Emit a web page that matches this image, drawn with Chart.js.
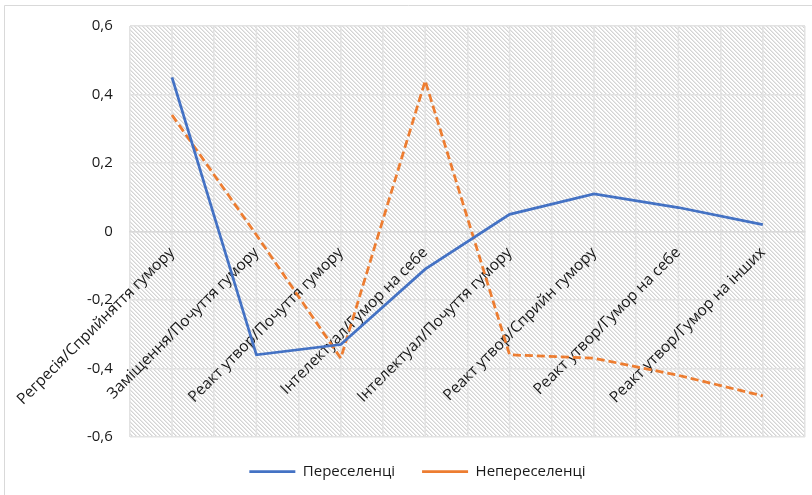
<!DOCTYPE html>
<html>
<head>
<meta charset="utf-8">
<script src="https://cdn.jsdelivr.net/npm/chart.js@4.4.1/dist/chart.umd.min.js"></script>
<style>
  html, body { margin: 0; padding: 0; background: #fff; }
  #wrap { width: 812px; height: 495px; }
</style>
</head>
<body>
<div id="wrap"><canvas id="c" width="812" height="495"></canvas></div>
<script>
const categories = [
  'Регресія/Сприйняття гумору',
  'Заміщення/Почуття гумору',
  'Реакт утвор/Почуття гумору',
  'Інтелектуал/Гумор на себе',
  'Інтелектуал/Почуття гумору',
  'Реакт утвор/Сприйн гумору',
  'Реакт утвор/Гумор на себе',
  'Реакт утвор/Гумор на інших'
];
const seriesNames = ['Переселенці', 'Непереселенці'];
const pereselentsi = [0.45, -0.36, -0.33, -0.11, 0.05, 0.11, 0.07, 0.02];
const nepereselentsi = [0.34, -0.01, -0.37, 0.44, -0.36, -0.37, -0.42, -0.48];
const yMin = -0.6, yMax = 0.6, yStep = 0.2;

// hatch pattern
const pc = document.createElement('canvas');
pc.width = 4; pc.height = 4;
const pctx = pc.getContext('2d');
const img = pctx.createImageData(4, 4);
for (let y = 0; y < 4; y++) for (let x = 0; x < 4; x++) {
  const m = ((x - y) % 4 + 4) % 4;
  const v = m === 0 ? 212 : (m === 1 ? 232 : 255);
  const i = (y * 4 + x) * 4;
  img.data[i] = v; img.data[i+1] = v; img.data[i+2] = v; img.data[i+3] = 255;
}
pctx.putImageData(img, 0, 0);

const bgPlugin = {
  id: 'bg',
  beforeDraw(chart) {
    const { ctx, chartArea: a } = chart;
    ctx.save();
    ctx.fillStyle = '#fff';
    ctx.fillRect(0, 0, chart.width, chart.height);
    ctx.strokeStyle = '#d9d9d9';
    ctx.lineWidth = 1;
    ctx.beginPath();
    ctx.moveTo(4.5, chart.height);
    ctx.lineTo(4.5, 5.5);
    ctx.lineTo(chart.width, 5.5);
    ctx.stroke();
    ctx.fillStyle = ctx.createPattern(pc, 'repeat');
    ctx.fillRect(a.left, a.top, a.right - a.left, a.bottom - a.top);
    const xs = chart.scales.x;
    ctx.strokeStyle = '#e2e2e2';
    ctx.lineWidth = 1.5;
    for (let i = 0; i < categories.length; i++) {
      const px = xs.getPixelForValue(i);
      ctx.beginPath();
      ctx.moveTo(px, a.top);
      ctx.lineTo(px, a.bottom);
      ctx.stroke();
    }
    ctx.restore();
  }
};

const fontFam = '"Open Sans", "Noto Sans", sans-serif';
const textColor = '#1a1a1a';

new Chart(document.getElementById('c'), {
  type: 'line',
  data: {
    labels: categories,
    datasets: [
      {
        label: seriesNames[0],
        data: pereselentsi,
        borderColor: '#4472C4',
        backgroundColor: '#4472C4',
        borderWidth: 2.75,
        pointRadius: 0,
        tension: 0,
        borderCapStyle: 'butt'
      },
      {
        label: seriesNames[1],
        data: nepereselentsi,
        borderColor: '#ED7D31',
        backgroundColor: '#ED7D31',
        borderWidth: 2.75,
        borderDash: [8, 4],
        pointRadius: 0,
        tension: 0,
        borderCapStyle: 'butt'
      }
    ]
  },
  options: {
    responsive: false,
    animation: false,
    devicePixelRatio: 1,
    layout: { padding: { left: 30, top: 20, right: 7, bottom: 6 } },
    plugins: {
      legend: {
        position: 'bottom',
        labels: {
          usePointStyle: true,
          pointStyle: 'line',
          pointStyleWidth: 46,
          padding: 27,
          color: textColor,
          font: { family: fontFam, size: 15 }
        }
      },
      tooltip: { enabled: false }
    },
    scales: {
      x: {
        type: 'category',
        offset: true,
        position: { y: 0 },
        afterFit(scale) { scale.height = 0; },
        grid: { display: true, offset: true, color: '#e2e2e2', lineWidth: 1.5, drawTicks: false },
        border: { display: true, color: '#d9d9d9', width: 1.5 },
        ticks: {
          autoSkip: false,
          maxRotation: 45,
          minRotation: 45,
          padding: 12,
          color: textColor,
          font: { family: fontFam, size: 15.5 }
        }
      },
      y: {
        min: yMin,
        max: yMax,
        afterFit(scale) { scale.width = 97; },
        grid: { color: '#e2e2e2', lineWidth: 1.5, drawTicks: false },
        border: { display: false },
        ticks: {
          stepSize: yStep,
          padding: 17,
          color: textColor,
          font: { family: fontFam, size: 15 },
          callback: (v) => {
            const r = Math.round(v * 10) / 10;
            return r === 0 ? '0' : r.toFixed(1).replace('.', ',');
          }
        }
      }
    }
  },
  plugins: [bgPlugin]
});
</script>
</body>
</html>
